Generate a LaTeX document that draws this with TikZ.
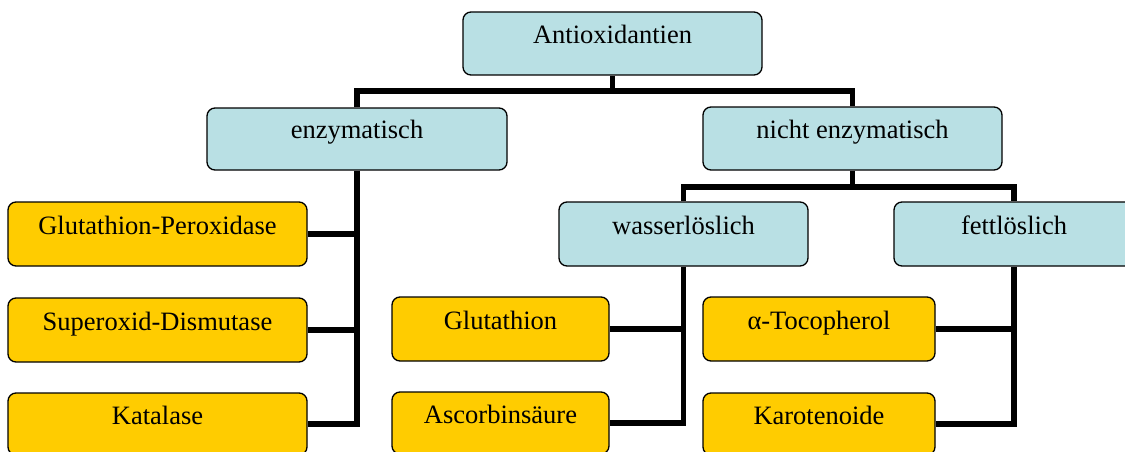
\documentclass[tikz,border=0pt]{standalone}
\usepackage{fontspec}
\setmainfont{Liberation Serif}
\usetikzlibrary{backgrounds}
\definecolor{boxblue}{RGB}{185,224,228}
\definecolor{boxgold}{RGB}{255,204,0}
\tikzset{
  x=1pt,y=-1pt,
  basebox/.style={draw=black, line width=1.3pt, rounded corners=8pt, inner sep=0pt,
    text height=12pt, text depth=12pt, font=\fontsize{26.5}{30}\selectfont},
  bluebox/.style={basebox, fill=boxblue},
  goldbox/.style={basebox, fill=boxgold},
  conn/.style={line width=5.5pt, draw=black},
}
\begin{document}
\begin{tikzpicture}
\clip (0,0) rectangle (1125,452);
\useasboundingbox (0,0) rectangle (1125,452);
% level 0-1
\node[bluebox, minimum width=299pt, minimum height=63pt] (anti) at (612.5,43.5) {Antioxidantien};
\node[bluebox, minimum width=300pt, minimum height=62pt] (enz) at (357,139) {enzymatisch};
\node[bluebox, minimum width=299pt, minimum height=63pt] (nenz) at (852.5,138.5) {nicht enzymatisch};
% level 2
\node[bluebox, minimum width=249pt, minimum height=64pt] (wasser) at (683.5,234) {wasserlöslich};
\node[bluebox, minimum width=240pt, minimum height=64pt] (fett) at (1014,234) {fettlöslich};
% leaves
\node[goldbox, minimum width=299pt, minimum height=64pt] (gp) at (157.5,234) {Glutathion-Peroxidase};
\node[goldbox, minimum width=299pt, minimum height=64pt] (sd) at (157.5,330) {Superoxid-Dismutase};
\node[goldbox, minimum width=299pt, minimum height=62pt] (kat) at (157.5,424) {Katalase};
\node[goldbox, minimum width=217pt, minimum height=64pt] (glut) at (500.5,329) {Glutathion};
\node[goldbox, minimum width=217pt, minimum height=62pt] (asc) at (500.5,423) {Ascorbinsäure};
\node[goldbox, minimum width=232pt, minimum height=64pt] (toc) at (819,329) {α-Tocopherol};
\node[goldbox, minimum width=232pt, minimum height=62pt] (karo) at (819,424) {Karotenoide};
% connectors
\begin{scope}[on background layer]
\coordinate (top) at (612.5,91);
\draw[conn] (anti.south) -- (top);
\draw[conn] (enz.north) |- (top) -| (nenz.north);
\coordinate (mid) at (852.5,187);
\draw[conn] (nenz.south) -- (mid);
\draw[conn] (wasser.north) |- (mid) -| (fett.north);
% enzymatic branch
\coordinate (ebot) at (357,424);
\draw[conn] (enz.south) -- (ebot) -- (kat.east);
\draw[conn] (sd.east) -- (sd.east -| ebot);
\draw[conn] (gp.east) -- (gp.east -| ebot);
% water soluble
\coordinate (wbot) at (683.5,423);
\draw[conn] (wasser.south) -- (wbot) -- (asc.east);
\draw[conn] (glut.east) -- (glut.east -| wbot);
% fat soluble
\coordinate (fbot) at (1014,424);
\draw[conn] (fett.south) -- (fbot) -- (karo.east);
\draw[conn] (toc.east) -- (toc.east -| fbot);
\end{scope}
\end{tikzpicture}
\end{document}
